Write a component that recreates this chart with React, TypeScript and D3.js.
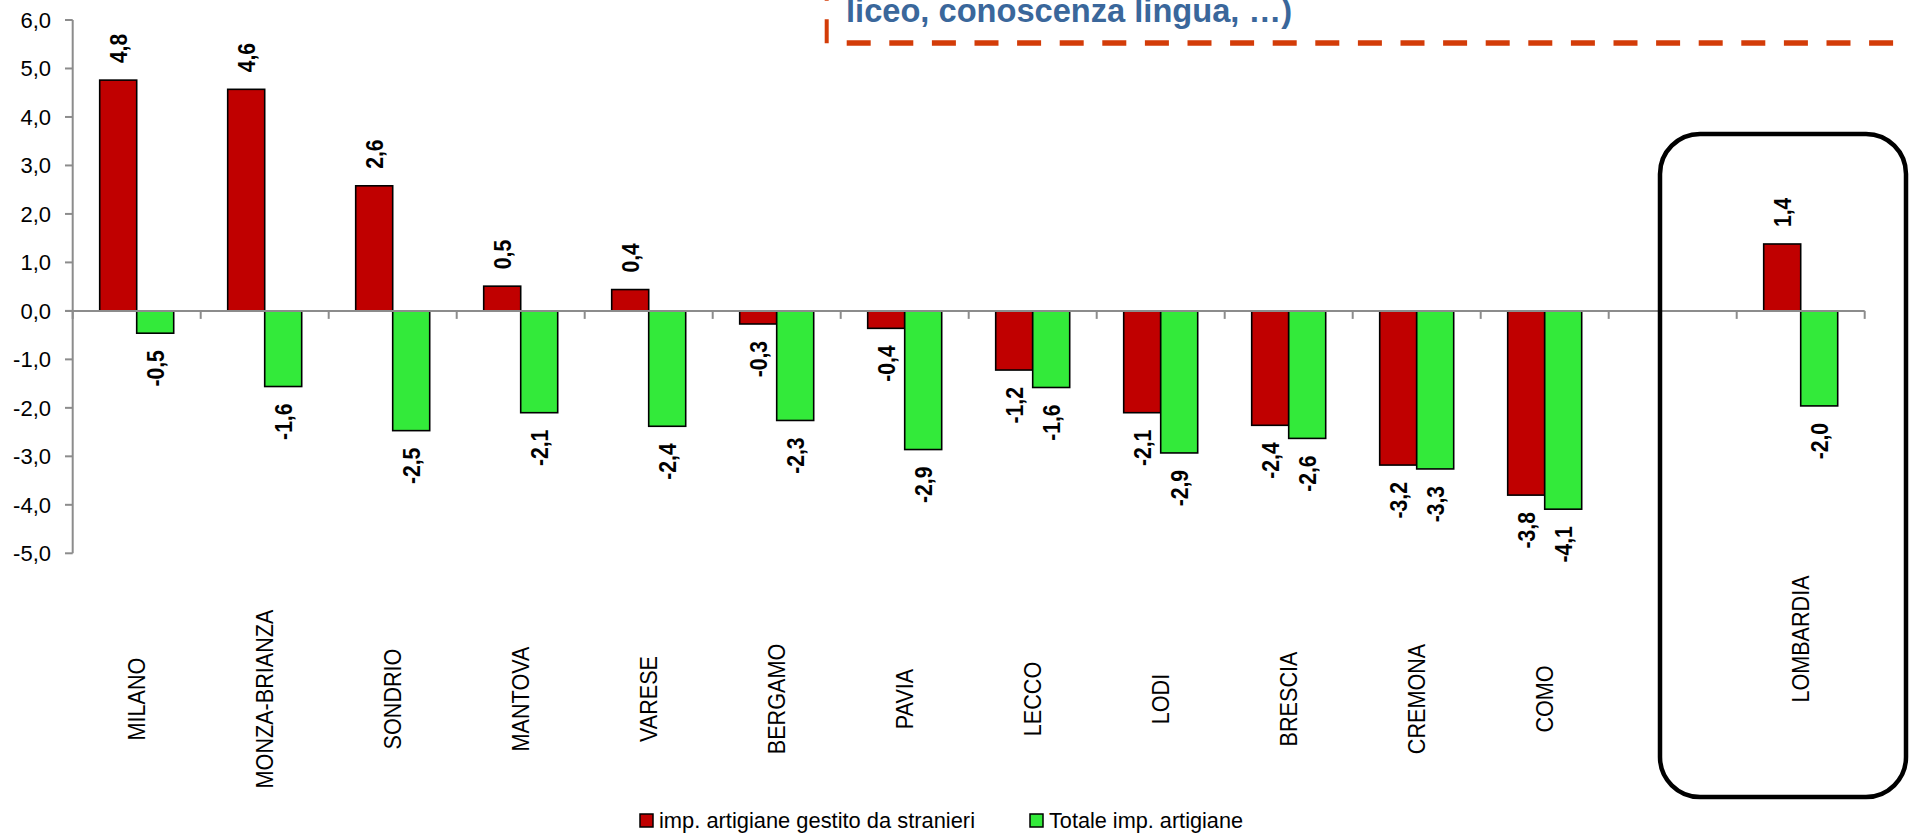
import React from "react";
import * as d3 from "d3";

const categories = [
  "MILANO", "MONZA-BRIANZA", "SONDRIO", "MANTOVA", "VARESE", "BERGAMO",
  "PAVIA", "LECCO", "LODI", "BRESCIA", "CREMONA", "COMO", "", "LOMBARDIA",
];
const stranieri: (number | null)[] = [
  4.76, 4.57, 2.58, 0.51, 0.44, -0.27, -0.36, -1.22, -2.1, -2.36, -3.18, -3.8, null, 1.38,
];
const totale: (number | null)[] = [
  -0.46, -1.56, -2.47, -2.1, -2.38, -2.26, -2.86, -1.58, -2.93, -2.63, -3.26, -4.09, null, -1.96,
];
const seriesNames = ["imp. artigiane gestito da stranieri", "Totale imp. artigiane"];
const seriesColors = ["#C00000", "#33EA3A"];
const yTicks = [6, 5, 4, 3, 2, 1, 0, -1, -2, -3, -4, -5];
const noteText = "liceo, conoscenza lingua, …)";

const W = 1910;
const H = 834;
const FONT = "'Liberation Sans', Arial, Helvetica, sans-serif";

const fmt = (v: number) => v.toFixed(1).replace(".", ",");

export default function App() {
  const x = d3.scaleBand<number>()
    .domain(d3.range(categories.length))
    .range([72.7, 1864.7])
    .paddingInner(0)
    .paddingOuter(0);
  const step = x.step();
  const inner = d3.scaleBand<number>().domain([0, 1]).range([27, step - 27]);
  const y = d3.scaleLinear().domain([-5, 6]).range([553.3, 20]);
  const y0 = y(0);
  const series = [stranieri, totale];
  const axisColor = "#8C8C8C";
  const legendWidths = [316, 194];

  return (
    <div>
      <style>{`body{margin:0;background:#fff}`}</style>
      <svg width={W} height={H} style={{ display: "block", fontFamily: FONT }}>
        <rect width={W} height={H} fill="#fff" />
        {/* note annotation at top */}
        <text x={846} y={22} fill="#3A679B" fontSize={34} fontWeight="bold" textLength={446} lengthAdjust="spacingAndGlyphs">
          {noteText}
        </text>
        <line x1={846.7} y1={43} x2={W + 20} y2={43} stroke="#D33C08" strokeWidth={5.5} strokeDasharray="24 18.6" />
        <line x1={826.7} y1={43.3} x2={826.7} y2={-60} stroke="#D33C08" strokeWidth={4} strokeDasharray="24 18.6" />

        {/* y axis */}
        <line x1={72.7} x2={72.7} y1={y(6)} y2={y(-5)} stroke={axisColor} strokeWidth={2} />
        {yTicks.map((t) => (
          <g key={t}>
            <line x1={65} x2={72.7} y1={y(t)} y2={y(t)} stroke={axisColor} strokeWidth={2} />
            <text x={51} y={y(t)} dy="0.36em" textAnchor="end" fontSize={22} fill="#000">
              {fmt(t)}
            </text>
          </g>
        ))}

        {/* bars */}
        {series.map((s, si) =>
          s.map((v, i) => {
            if (v === null) return null;
            const bx = (x(i) as number) + (inner(si) as number);
            const bw = inner.bandwidth();
            const top = Math.min(y(v), y0);
            const h = Math.abs(y(v) - y0);
            return (
              <rect key={`b${si}-${i}`} x={bx} y={top} width={bw} height={h}
                fill={seriesColors[si]} stroke="#000" strokeWidth={1.6} />
            );
          })
        )}

        {/* zero line and category ticks */}
        <line x1={65} x2={1864.7} y1={y0} y2={y0} stroke={axisColor} strokeWidth={2} />
        {d3.range(categories.length + 1).map((i) => {
          const tx = 72.7 + i * step;
          return <line key={`ct${i}`} x1={tx} x2={tx} y1={y0} y2={y0 + 8} stroke={axisColor} strokeWidth={2} />;
        })}

        {/* data labels */}
        {series.map((s, si) =>
          s.map((v, i) => {
            if (v === null) return null;
            const cx = (x(i) as number) + (inner(si) as number) + inner.bandwidth() / 2;
            const pos = v >= 0;
            const ly = pos ? y(v) - 17 : y(v) + 17;
            return (
              <text key={`l${si}-${i}`} transform={`translate(${cx},${ly}) rotate(-90) scale(0.88,1)`}
                textAnchor={pos ? "start" : "end"} dy="0.36em" fontSize={24} fontWeight="bold" fill="#000">
                {fmt(v)}
              </text>
            );
          })
        )}

        {/* category labels */}
        {categories.map((c, i) => {
          const cx = (x(i) as number) + step / 2;
          const cy = i === categories.length - 1 ? 639 : 699;
          return (
            <text key={`c${i}`} transform={`translate(${cx},${cy}) rotate(-90) scale(0.9,1)`} textAnchor="middle"
              dy="0.36em" fontSize={24} fill="#000">
              {c}
            </text>
          );
        })}

        {/* highlight box */}
        <rect x={1660} y={134} width={246} height={663} rx={40} ry={40} fill="none" stroke="#000" strokeWidth={4.5} />

        {/* legend */}
        {seriesNames.map((n, i) => {
          const lx = i === 0 ? 640 : 1030;
          return (
            <g key={`lg${i}`}>
              <rect x={lx} y={814} width={13} height={13} fill={seriesColors[i]} stroke="#000" strokeWidth={1.5} />
              <text x={lx + 19} y={827.5} fontSize={22.5} fill="#000" textLength={legendWidths[i]} lengthAdjust="spacingAndGlyphs">{n}</text>
            </g>
          );
        })}
      </svg>
    </div>
  );
}
